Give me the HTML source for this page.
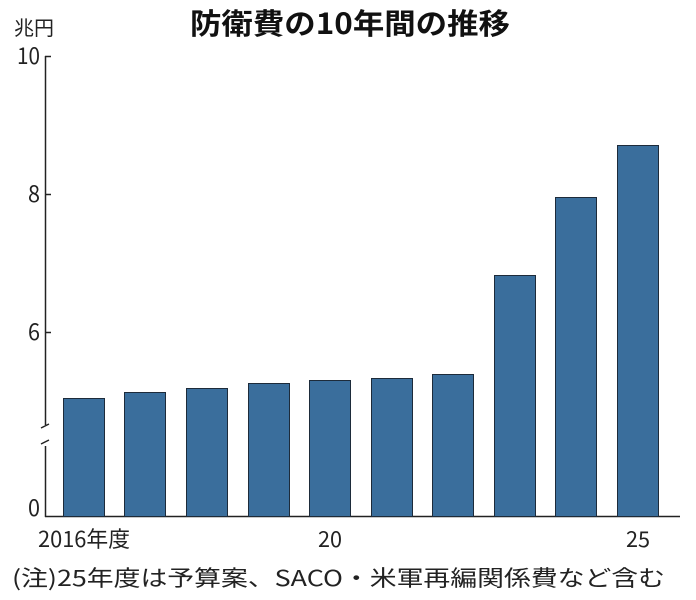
<!DOCTYPE html><html><head><meta charset="utf-8"><style>
body{margin:0;background:#fff;}
svg{display:block;font-family:"Liberation Sans","Noto Sans CJK JP",sans-serif;}
</style></head><body>
<svg width="696" height="600" viewBox="0 0 696 600">
<rect width="696" height="600" fill="#fff"/>
<text x="190" y="34" font-size="29" font-weight="bold" fill="#111" font-family="Noto Sans CJK JP, sans-serif" textLength="320" lengthAdjust="spacingAndGlyphs">防衛費の10年間の推移</text>
<text x="14" y="35" font-size="20" fill="#222" font-family="Noto Sans CJK JP, sans-serif">兆円</text>
<g font-size="23" fill="#222" font-family="Noto Sans CJK JP, sans-serif">
<text x="17" y="64" textLength="23" lengthAdjust="spacingAndGlyphs">10</text>
<text x="28" y="202" textLength="12" lengthAdjust="spacingAndGlyphs">8</text>
<text x="28" y="340" textLength="12" lengthAdjust="spacingAndGlyphs">6</text>
<text x="28" y="516" textLength="12" lengthAdjust="spacingAndGlyphs">0</text>
</g>
<g stroke="#222" stroke-width="1.5" fill="none">
<path d="M45.5 56 V425 M45.5 446 V517 M45 516.5 H680"/>
<path d="M45 56.5 H51 M45 194.5 H51 M45 332.5 H51"/>
<path d="M41 428 L49 424 M41 444 L49 440"/>
</g>
<g fill="#3a6e9c" stroke="#1d2b3a" stroke-width="1">
<rect x="63.5" y="398.5" width="41" height="118"/>
<rect x="124.5" y="392.5" width="41" height="124"/>
<rect x="186.5" y="388.5" width="41" height="128"/>
<rect x="248.5" y="383.5" width="41" height="133"/>
<rect x="309.5" y="380.5" width="41" height="136"/>
<rect x="371.5" y="378.5" width="41" height="138"/>
<rect x="432.5" y="374.5" width="41" height="142"/>
<rect x="494.5" y="275.5" width="41" height="241"/>
<rect x="555.5" y="197.5" width="41" height="319"/>
<rect x="617.5" y="145.5" width="41" height="371"/>
</g>
<g font-size="22" fill="#222" font-family="Noto Sans CJK JP, sans-serif">
<text x="38" y="547" textLength="92" lengthAdjust="spacingAndGlyphs">2016年度</text>
<text x="318" y="547" textLength="24" lengthAdjust="spacingAndGlyphs">20</text>
<text x="626" y="547" textLength="24" lengthAdjust="spacingAndGlyphs">25</text>
<text x="12" y="586" font-size="22" textLength="653" lengthAdjust="spacingAndGlyphs">(注)25年度は予算案、SACO・米軍再編関係費など含む</text>
</g>
</svg>
</body></html>
